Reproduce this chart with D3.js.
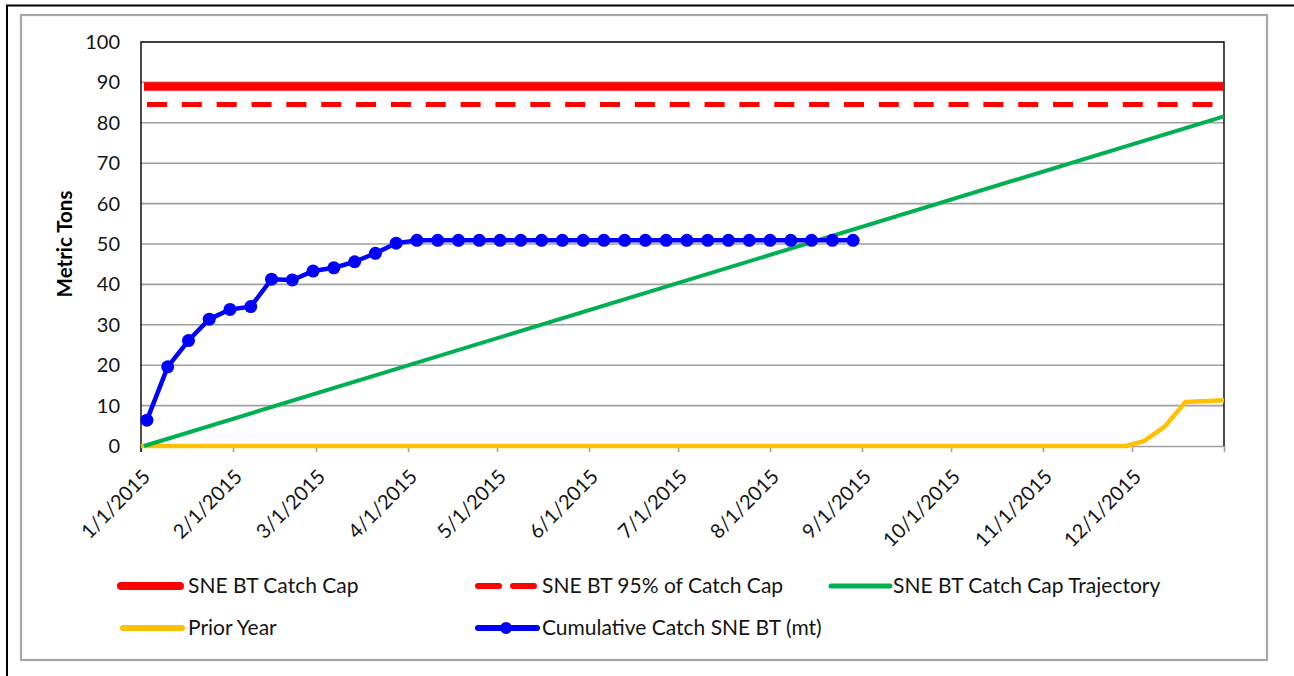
<!DOCTYPE html>
<html>
<head>
<meta charset="utf-8">
<script src="https://cdn.jsdelivr.net/npm/d3@7"></script>
<style>
  html, body { margin: 0; padding: 0; background: #fff; }
  svg { display: block; font-family: Lato, "Open Sans", sans-serif; }
</style>
</head>
<body>
<svg id="chart" width="1294" height="676"></svg>
<script>
// ---- data -------------------------------------------------------------
const capValue = 89;                 // SNE BT Catch Cap (mt)
const cap95Value = 84.55;            // 95% of the catch cap
const capDates = ["2015-01-02", "2016-01-01"];

const trajectoryDates = ["2015-01-02", "2016-01-01"];
const trajectoryValues = [0, 81.6];

const priorYearDates = ["2015-01-01", "2015-11-29", "2015-12-05", "2015-12-12", "2015-12-19", "2016-01-01"];
const priorYearValues = [0, 0, 1.2, 4.8, 10.9, 11.3];

const catchWeeks = [
  "2015-01-03", "2015-01-10", "2015-01-17", "2015-01-24", "2015-01-31",
  "2015-02-07", "2015-02-14", "2015-02-21", "2015-02-28",
  "2015-03-07", "2015-03-14", "2015-03-21", "2015-03-28",
  "2015-04-04", "2015-04-11", "2015-04-18", "2015-04-25",
  "2015-05-02", "2015-05-09", "2015-05-16", "2015-05-23", "2015-05-30",
  "2015-06-06", "2015-06-13", "2015-06-20", "2015-06-27",
  "2015-07-04", "2015-07-11", "2015-07-18", "2015-07-25",
  "2015-08-01", "2015-08-08", "2015-08-15", "2015-08-22", "2015-08-29"
];
const catchValues = [
  6.4, 19.6, 26.1, 31.4, 33.8, 34.5, 41.3, 41.1, 43.3, 44.1, 45.6, 47.7, 50.2,
  50.9, 50.9, 50.9, 50.9, 50.9, 50.9, 50.9, 50.9, 50.9, 50.9, 50.9,
  50.9, 50.9, 50.9, 50.9, 50.9, 50.9, 50.9, 50.9, 50.9, 50.9, 50.9
];

const monthTicks = ["2015-01-01", "2015-02-01", "2015-03-01", "2015-04-01", "2015-05-01", "2015-06-01",
                    "2015-07-01", "2015-08-01", "2015-09-01", "2015-10-01", "2015-11-01", "2015-12-01", "2016-01-01"];
const yTicks = [0, 10, 20, 30, 40, 50, 60, 70, 80, 90, 100];
const yTitle = "Metric Tons";

const legendLabels = ["SNE BT Catch Cap", "SNE BT 95% of Catch Cap", "SNE BT Catch Cap Trajectory",
                      "Prior Year", "Cumulative Catch SNE BT (mt)"];

// ---- setup ------------------------------------------------------------
const parse = d3.timeParse("%Y-%m-%d");
const fmt = d3.timeFormat("%-m/%-d/%Y");
const svg = d3.select("#chart");

const plot = { left: 141, right: 1224, top: 42, bottom: 446 };
const x = d3.scaleTime()
  .domain([parse("2015-01-01"), parse("2016-01-01")])
  .range([plot.left, plot.right]);
const y = d3.scaleLinear().domain([0, 100]).range([plot.bottom, plot.top]);

const colors = { cap: "#ff0000", traj: "#00b050", prior: "#ffc000", catch: "#0000ff" };
const textColor = "#141414";

// frames
svg.append("rect").attr("x", 7).attr("y", 5.5).attr("width", 1310).attr("height", 700)
  .attr("fill", "#fff").attr("stroke", "#000").attr("stroke-width", 2);
svg.append("rect").attr("x", 21).attr("y", 15).attr("width", 1246).attr("height", 645)
  .attr("fill", "#fff").attr("stroke", "#a6a6a6").attr("stroke-width", 2.2);

// gridlines
svg.append("g")
  .selectAll("line").data(yTicks.filter(v => v > 0 && v < 100)).join("line")
  .attr("x1", plot.left).attr("x2", plot.right)
  .attr("y1", d => y(d)).attr("y2", d => y(d))
  .attr("stroke", "#a0a0a0").attr("stroke-width", 1.6);

// x axis
const xAxis = svg.append("g").attr("transform", `translate(0,${plot.bottom})`)
  .call(d3.axisBottom(x).tickValues(monthTicks.map(parse)).tickSize(6).tickSizeOuter(0)
    .tickFormat(d => d < parse("2016-01-01") ? fmt(d) : ""));
xAxis.select(".domain").attr("stroke", "#a0a0a0").attr("stroke-width", 1.6);
xAxis.selectAll(".tick line").attr("stroke", "#a0a0a0").attr("stroke-width", 1.6);
xAxis.selectAll(".tick text")
  .attr("fill", textColor).attr("font-size", 20).attr("font-family", "Lato")
  .attr("text-anchor", "end")
  .attr("transform", "translate(5,27) rotate(-45)")
  .attr("x", 0).attr("y", 0).attr("dy", "0.35em");

// plot border (left, top, right) in black
svg.append("path")
  .attr("d", `M${plot.left},${plot.bottom + 6}V${plot.top}H${plot.right}V${plot.bottom}`)
  .attr("fill", "none").attr("stroke", "#000").attr("stroke-width", 1.4);

// y axis labels
svg.append("g").selectAll("text").data(yTicks).join("text")
  .attr("x", 120).attr("y", d => y(d)).attr("dy", "0.35em")
  .attr("text-anchor", "end").attr("font-size", 20).attr("fill", textColor)
  .text(d => d);

svg.append("text")
  .attr("transform", "translate(65,244) rotate(-90)")
  .attr("dy", "0.35em").attr("text-anchor", "middle")
  .attr("font-size", 20.5).attr("font-weight", "bold").attr("fill", "#000")
  .text(yTitle);

// ---- series -----------------------------------------------------------
const line = d3.line().x(d => x(d[0])).y(d => y(d[1]));

svg.append("path")
  .datum(priorYearDates.map((d, i) => [parse(d), priorYearValues[i]]))
  .attr("d", line).attr("fill", "none").attr("stroke", colors.prior)
  .attr("stroke-width", 4.5).attr("stroke-linejoin", "round");

svg.append("path")
  .datum(trajectoryDates.map((d, i) => [parse(d), trajectoryValues[i]]))
  .attr("d", line).attr("fill", "none").attr("stroke", colors.traj).attr("stroke-width", 4);

svg.append("path")
  .datum(capDates.map(d => [parse(d), cap95Value]))
  .attr("d", line).attr("fill", "none").attr("stroke", colors.cap).attr("stroke-width", 5)
  .attr("stroke-dasharray", "20 14.85").attr("stroke-dashoffset", 31.85);

svg.append("path")
  .datum(capDates.map(d => [parse(d), capValue]))
  .attr("d", line).attr("fill", "none").attr("stroke", colors.cap).attr("stroke-width", 8.5);

const catchData = catchWeeks.map((d, i) => [parse(d), catchValues[i]]);
svg.append("path").datum(catchData)
  .attr("d", line).attr("fill", "none").attr("stroke", colors.catch)
  .attr("stroke-width", 4.5).attr("stroke-linejoin", "round");
svg.append("g").selectAll("circle").data(catchData).join("circle")
  .attr("cx", d => x(d[0])).attr("cy", d => y(d[1])).attr("r", 6.5)
  .attr("fill", colors.catch);

// ---- legend -----------------------------------------------------------
const legendItems = [
  { label: legendLabels[0], x: 118, y: 586, color: colors.cap, width: 8, dash: null },
  { label: legendLabels[1], x: 475, y: 586, color: colors.cap, width: 6, dash: "21 14" },
  { label: legendLabels[2], x: 828, y: 586, color: colors.traj, width: 5, dash: null },
  { label: legendLabels[3], x: 120, y: 628, color: colors.prior, width: 6, dash: null, marker: false },
  { label: legendLabels[4], x: 475, y: 628, color: colors.catch, width: 6, dash: null, marker: true }
];
const lg = svg.append("g").selectAll("g").data(legendItems).join("g");
lg.append("line")
  .attr("x1", d => d.x + 3).attr("x2", d => d.x + 62)
  .attr("y1", d => d.y).attr("y2", d => d.y)
  .attr("stroke", d => d.color).attr("stroke-width", d => d.width)
  .attr("stroke-linecap", "round")
  .attr("stroke-dasharray", d => d.dash);
lg.filter(d => d.marker).append("circle")
  .attr("cx", d => d.x + 31).attr("cy", d => d.y).attr("r", 6).attr("fill", d => d.color);
lg.append("text")
  .attr("x", d => d.x < 200 ? 188 : d.x < 600 ? 542 : 893)
  .attr("y", d => d.y).attr("dy", "0.35em")
  .attr("font-size", 21).attr("fill", textColor)
  .text(d => d.label);
</script>
</body>
</html>
